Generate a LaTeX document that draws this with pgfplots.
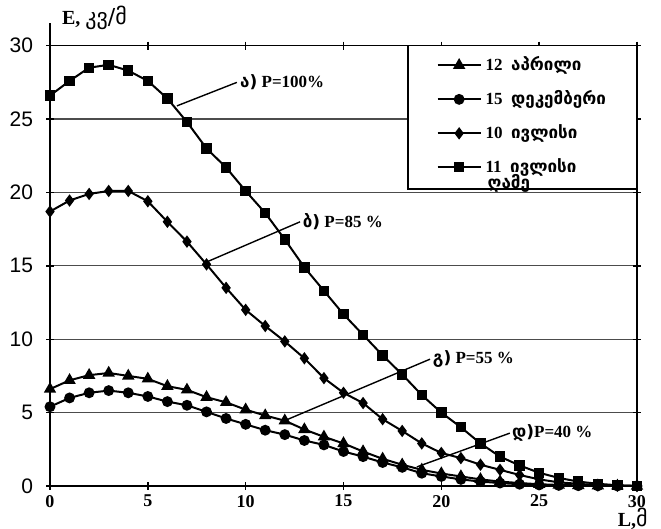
\documentclass[border=0pt]{standalone}
\usepackage{fontspec}
\setmainfont{Liberation Serif}
\newfontfamily\geo{DejaVu Sans}
\newfontfamily\sansf{Liberation Sans}
\usepackage{pgfplots}
\pgfplotsset{compat=1.18}

% E (kV/m) against L (m); x = 0..30
\pgfplotstableread{
x  sq    di    tr    ci
0  26.6  18.7  6.6   5.4
1  27.6  19.45 7.2   6.0
2  28.5  19.9  7.55  6.35
3  28.7  20.1  7.7   6.5
4  28.3  20.1  7.5   6.35
5  27.6  19.4  7.3   6.1
6  26.4  18.0  6.8   5.75
7  24.8  16.65 6.55  5.5
8  23.0  15.1  6.05  5.05
9  21.7  13.5  5.7   4.6
10 20.1  12.0  5.2   4.2
11 18.6  10.9  4.8   3.8
12 16.8  9.85  4.45  3.5
13 14.9  8.7   3.85  3.1
14 13.3  7.35  3.35  2.8
15 11.7  6.35  2.9   2.35
16 10.3  5.65  2.35  2.0
17 8.9   4.55  1.85  1.6
18 7.6   3.75  1.45  1.27
19 6.2   2.9   1.1   0.87
20 5.0   2.25  0.85  0.65
21 4.0   1.9   0.65  0.45
22 2.9   1.45  0.45  0.3
23 2.0   1.1   0.3   0.2
24 1.4   0.75  0.2   0.12
25 0.9   0.45  0.12  0.07
26 0.55  0.25  0.07  0.04
27 0.3   0.15  0.04  0.02
28 0.15  0.05  0.02  0.01
29 0.05  0.02  0.01  0.0
30 0.0   0.0   0.0   0.0
}\data

\begin{document}
\begin{tikzpicture}
\begin{axis}[
  scale only axis, width=293.5pt, height=220.15pt,
  xmin=0, xmax=30, ymin=0, ymax=30,
  xtick={0,5,...,30}, ytick={0,5,...,30},
  ymajorgrids, grid style={black!70, line width=0.6pt},
  axis line style={line width=0.8pt},
  tick style={black, line width=0.7pt},
  tick align=center, major tick length=4pt,
  clip=false,
  /pgf/number format/assume math mode=true,
  yticklabel style={font=\sansf\fontsize{10.5}{12}\selectfont, xshift=-3pt},
  xticklabel style={font=\bfseries\fontsize{9}{10}\selectfont, yshift=1pt},
  legend style={draw=none, fill=none, at={(rel axis cs:0.658,0.985)}, anchor=north west,
    inner sep=0pt, row sep=4.5pt, font=\fontsize{8.5}{10}\selectfont},
  legend cell align=left,
  legend image code/.code={\draw[mark repeat=2,mark phase=2,#1]
    plot coordinates {(0pt,0pt) (10.75pt,0pt) (21.5pt,0pt)};},
  every axis plot/.append style={black, line width=1pt, mark options={solid}},
]
\draw[black, line width=0.8pt] (axis cs:0,30) -- (axis cs:0,31.55);

\addplot[mark=triangle*, mark size=2.6pt] table[x=x, y=tr] {\data};
\addlegendentry{\textbf{12}\ \ {\geo\bfseries აპრილი}}
\addplot[mark=*, mark size=2.2pt] table[x=x, y=ci] {\data};
\addlegendentry{\textbf{15}\ \ {\geo\bfseries დეკემბერი}}
\addplot[mark=diamond*, mark size=2.3pt] table[x=x, y=di] {\data};
\addlegendentry{\textbf{10}\ \ {\geo\bfseries ივლისი}}
\addplot[mark=square*, mark size=2.1pt] table[x=x, y=sq] {\data};
\addlegendentry{\textbf{11}\ \ {\geo\bfseries ივლისი}}

% legend frame (white, hides the grid line behind it)
\draw[fill=white, line width=0.8pt] (axis cs:18.3,30) rectangle (axis cs:30,20.25);
\node[anchor=west, inner sep=0pt, font=\fontsize{8.5}{10}\selectfont]
  at (axis cs:22.35,20.6) {\geo\bfseries ღამე};

% callouts
\draw[line width=0.7pt] (axis cs:6.49,25.9) -- (axis cs:9.55,27.5);
\node[anchor=west, inner sep=1pt, font=\bfseries\fontsize{8.5}{10}\selectfont]
  at (axis cs:9.6,27.5) {{\geo ა)} P=100\%};
\draw[line width=0.7pt] (axis cs:8.07,15.3) -- (axis cs:12.78,18.0);
\node[anchor=west, inner sep=1pt, font=\bfseries\fontsize{8.5}{10}\selectfont]
  at (axis cs:12.8,18.0) {{\geo ბ)} P=85 \%};
\draw[line width=0.7pt] (axis cs:11.9,4.4) -- (axis cs:19.42,8.64);
\node[anchor=west, inner sep=1pt, font=\bfseries\fontsize{8.5}{10}\selectfont]
  at (axis cs:19.45,8.64) {{\geo გ)} P=55 \%};
\draw[line width=0.7pt] (axis cs:18.75,1.3) -- (axis cs:23.5,3.6);
\node[anchor=west, inner sep=1pt, font=\bfseries\fontsize{8.5}{10}\selectfont]
  at (axis cs:23.5,3.6) {{\geo დ)}P=40 \%};

% axis titles
\node[anchor=base west, inner sep=0pt] at (axis cs:0.6,31.45)
  {\bfseries\fontsize{10}{12}\selectfont E, {\geo\mdseries\fontsize{11}{12}\selectfont კვ/მ}};
\node[anchor=base west, inner sep=0pt] at (axis cs:29.0,-2.75)
  {\bfseries\fontsize{10}{12}\selectfont L,{\geo\mdseries\fontsize{11}{12}\selectfont მ}};
\end{axis}
\pgfresetboundingbox
\path[use as bounding box] (-25pt,-21.5pt) rectangle (305.5pt,243pt);
\end{tikzpicture}
\end{document}
